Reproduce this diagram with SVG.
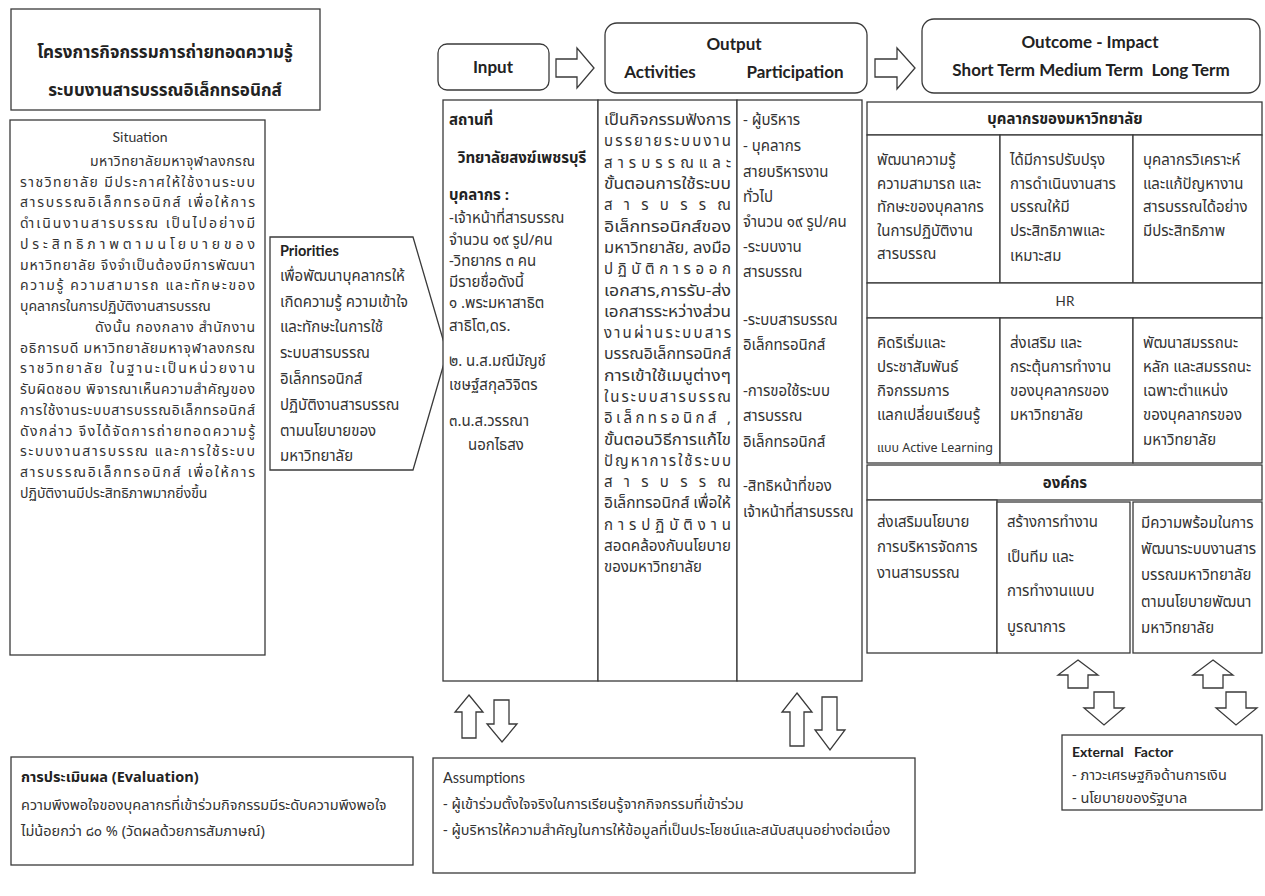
<svg xmlns="http://www.w3.org/2000/svg" width="1265" height="896" viewBox="0 0 1265 896">
<style>
.box{fill:#fff;stroke:#3a3a3a;stroke-width:1.3}
.arr{fill:#fff;stroke:#3a3a3a;stroke-width:1.3;stroke-linejoin:miter}
text{font-family:"Noto Sans Thai","Noto Sans","Liberation Sans",sans-serif;font-size:15px;fill:#333}
.s{font-size:14px}
.m{font-size:14.5px}
.b{font-weight:bold;fill:#222}
.en{font-family:Lato,"Open Sans","Liberation Sans",sans-serif}
.h{font-family:Lato,"Open Sans","Liberation Sans",sans-serif;font-weight:bold;font-size:17px;fill:#222}
.c{text-anchor:middle}
.sm{font-size:12.5px}
</style>
<rect width="1265" height="896" fill="#fff"/>

<g id="title">
<rect class="box" x="11" y="9" width="309" height="101"/>
<text class="b c" x="165" y="58" style="font-size:17px">โครงการกิจกรรมการถ่ายทอดความรู้</text>
<text class="b c" x="165" y="96" style="font-size:17px">ระบบงานสารบรรณอิเล็กทรอนิกส์</text>
</g>

<g id="situation" class="s">
<rect class="box" x="10" y="120" width="255" height="535"/>
<text class="c en s" x="140" y="142">Situation</text>
<text class="s" x="90" y="166" textLength="165" lengthAdjust="spacing">มหาวิทยาลัยมหาจุฬาลงกรณ</text>
<text class="s" x="20" y="187" textLength="235" lengthAdjust="spacing">ราชวิทยาลัย มีประกาศให้ใช้งานระบบ</text>
<text class="s" x="20" y="207" textLength="235" lengthAdjust="spacing">สารบรรณอิเล็กทรอนิกส์ เพื่อให้การ</text>
<text class="s" x="20" y="228" textLength="235" lengthAdjust="spacing">ดำเนินงานสารบรรณ เป็นไปอย่างมี</text>
<text class="s" x="20" y="249" textLength="235" lengthAdjust="spacing">ประสิทธิภาพตามนโยบายของ</text>
<text class="s" x="20" y="270" textLength="235" lengthAdjust="spacing">มหาวิทยาลัย จึงจำเป็นต้องมีการพัฒนา</text>
<text class="s" x="20" y="290" textLength="235" lengthAdjust="spacing">ความรู้ ความสามารถ และทักษะของ</text>
<text class="s" x="20" y="311">บุคลากรในการปฏิบัติงานสารบรรณ</text>
<text class="s" x="95" y="332" textLength="160" lengthAdjust="spacing">ดังนั้น กองกลาง สำนักงาน</text>
<text class="s" x="20" y="353" textLength="235" lengthAdjust="spacing">อธิการบดี มหาวิทยาลัยมหาจุฬาลงกรณ</text>
<text class="s" x="20" y="373" textLength="235" lengthAdjust="spacing">ราชวิทยาลัย ในฐานะเป็นหน่วยงาน</text>
<text class="s" x="20" y="394" textLength="235" lengthAdjust="spacing">รับผิดชอบ พิจารณาเห็นความสำคัญของ</text>
<text class="s" x="20" y="415" textLength="235" lengthAdjust="spacing">การใช้งานระบบสารบรรณอิเล็กทรอนิกส์</text>
<text class="s" x="20" y="436" textLength="235" lengthAdjust="spacing">ดังกล่าว จึงได้จัดการถ่ายทอดความรู้</text>
<text class="s" x="20" y="456" textLength="235" lengthAdjust="spacing">ระบบงานสารบรรณ และการใช้ระบบ</text>
<text class="s" x="20" y="477" textLength="235" lengthAdjust="spacing">สารบรรณอิเล็กทรอนิกส์ เพื่อให้การ</text>
<text class="s" x="20" y="498">ปฏิบัติงานมีประสิทธิภาพมากยิ่งขึ้น</text>
</g>

<g id="priorities">
<polygon class="box" points="270,237 413,237 447,353 413,470 270,470"/>
<text class="b en" x="280" y="256" style="font-size:14.5px">Priorities</text>
<text x="280" y="281">เพื่อพัฒนาบุคลากรให้</text>
<text x="280" y="307">เกิดความรู้ ความเข้าใจ</text>
<text x="280" y="332">และทักษะในการใช้</text>
<text x="280" y="358">ระบบสารบรรณ</text>
<text x="280" y="384">อิเล็กทรอนิกส์</text>
<text x="280" y="410">ปฏิบัติงานสารบรรณ</text>
<text x="280" y="436">ตามนโยบายของ</text>
<text x="280" y="461">มหาวิทยาลัย</text>
</g>

<g id="input-header">
<rect class="box" x="438" y="44" width="111" height="46" rx="9"/>
<text class="h c" x="493" y="73">Input</text>
</g>

<g id="output-header">
<rect class="box" x="605" y="23" width="262" height="70" rx="12"/>
<text class="h c" x="734" y="50">Output</text>
<text class="h c" x="660" y="78">Activities</text>
<text class="h c" x="795" y="78">Participation</text>
</g>

<g id="outcome-header">
<rect class="box" x="922" y="19" width="338" height="74" rx="12"/>
<text class="h c" x="1090" y="48">Outcome - Impact</text>
<text class="h c" x="1091" y="76" xml:space="preserve">Short Term Medium Term  Long Term</text>
</g>

<g id="input">
<rect class="box" x="443" y="100" width="155" height="581"/>
<text class="b" x="449" y="125">สถานที่</text>
<text class="b c" x="522" y="163">วิทยาลัยสงฆ์เพชรบุรี</text>
<text class="b" x="449" y="200">บุคลากร :</text>
<text x="449" y="223">-เจ้าหน้าที่สารบรรณ</text>
<text x="449" y="245">จำนวน ๑๙ รูป/คน</text>
<text x="449" y="266">-วิทยากร ๓ คน</text>
<text x="449" y="287">มีรายชื่อดังนี้</text>
<text x="449" y="308">๑ .พระมหาสาธิต</text>
<text x="449" y="331">สาธิโต,ดร.</text>
<text x="449" y="366">๒. น.ส.มณีมัญช์</text>
<text x="449" y="390">เชษฐ์สกุลวิจิตร</text>
<text x="449" y="426">๓.น.ส.วรรณา</text>
<text x="468" y="450">นอกไธสง</text>
</g>

<g id="activities">
<rect class="box" x="598" y="100" width="139" height="581"/>
<text x="604" y="125" textLength="127" lengthAdjust="spacingAndGlyphs">เป็นกิจกรรมฟังการ</text>
<text x="604" y="146" textLength="127" lengthAdjust="spacing">บรรยายระบบงาน</text>
<text x="604" y="168" textLength="127" lengthAdjust="spacing">สารบรรณและ</text>
<text x="604" y="189" textLength="127" lengthAdjust="spacingAndGlyphs">ขั้นตอนการใช้ระบบ</text>
<text x="604" y="210" textLength="127" lengthAdjust="spacing">สารบรรณ</text>
<text x="604" y="232" textLength="127" lengthAdjust="spacingAndGlyphs">อิเล็กทรอนิกส์ของ</text>
<text x="604" y="253" textLength="127" lengthAdjust="spacingAndGlyphs">มหาวิทยาลัย, ลงมือ</text>
<text x="604" y="274" textLength="127" lengthAdjust="spacing">ปฏิบัติการออก</text>
<text x="604" y="296" textLength="127" lengthAdjust="spacingAndGlyphs">เอกสาร,การรับ-ส่ง</text>
<text x="604" y="317" textLength="127" lengthAdjust="spacingAndGlyphs">เอกสารระหว่างส่วน</text>
<text x="604" y="338" textLength="127" lengthAdjust="spacing">งานผ่านระบบสาร</text>
<text x="604" y="359" textLength="127" lengthAdjust="spacingAndGlyphs">บรรณอิเล็กทรอนิกส์</text>
<text x="604" y="381" textLength="127" lengthAdjust="spacingAndGlyphs">การเข้าใช้เมนูต่างๆ</text>
<text x="604" y="402" textLength="127" lengthAdjust="spacing">ในระบบสารบรรณ</text>
<text x="604" y="423" textLength="127" lengthAdjust="spacing">อิเล็กทรอนิกส์ ,</text>
<text x="604" y="445" textLength="127" lengthAdjust="spacingAndGlyphs">ขั้นตอนวิธีการแก้ไข</text>
<text x="604" y="466" textLength="127" lengthAdjust="spacing">ปัญหาการใช้ระบบ</text>
<text x="604" y="487" textLength="127" lengthAdjust="spacing">สารบรรณ</text>
<text x="604" y="508" textLength="127" lengthAdjust="spacingAndGlyphs">อิเล็กทรอนิกส์ เพื่อให้</text>
<text x="604" y="530" textLength="127" lengthAdjust="spacing">การปฏิบัติงาน</text>
<text x="604" y="551" textLength="127" lengthAdjust="spacingAndGlyphs">สอดคล้องกับนโยบาย</text>
<text x="604" y="572">ของมหาวิทยาลัย</text>
</g>

<g id="participation">
<rect class="box" x="737" y="100" width="125" height="581"/>
<text x="743" y="125">- ผู้บริหาร</text>
<text x="743" y="151">- บุคลากร</text>
<text x="743" y="177">สายบริหารงาน</text>
<text x="743" y="202">ทั่วไป</text>
<text x="743" y="227">จำนวน ๑๙ รูป/คน</text>
<text x="743" y="252">-ระบบงาน</text>
<text x="743" y="277">สารบรรณ</text>
<text x="743" y="325">-ระบบสารบรรณ</text>
<text x="743" y="350">อิเล็กทรอนิกส์</text>
<text x="743" y="396">-การขอใช้ระบบ</text>
<text x="743" y="421">สารบรรณ</text>
<text x="743" y="447">อิเล็กทรอนิกส์</text>
<text x="743" y="491">-สิทธิหน้าที่ของ</text>
<text x="743" y="517">เจ้าหน้าที่สารบรรณ</text>
</g>

<g id="outcome-personnel">
<rect class="box" x="867" y="102" width="395" height="33"/>
<text class="b c" x="1065" y="124">บุคลากรของมหาวิทยาลัย</text>
<rect class="box" x="867" y="135" width="133" height="148"/>
<rect class="box" x="1000" y="135" width="133" height="148"/>
<rect class="box" x="1133" y="135" width="129" height="148"/>
<text x="877" y="165">พัฒนาความรู้</text>
<text x="877" y="189">ความสามารถ และ</text>
<text x="877" y="212">ทักษะของบุคลากร</text>
<text x="877" y="236">ในการปฏิบัติงาน</text>
<text x="877" y="259">สารบรรณ</text>
<text x="1010" y="165">ได้มีการปรับปรุง</text>
<text x="1010" y="189">การดำเนินงานสาร</text>
<text x="1010" y="212">บรรณให้มี</text>
<text x="1010" y="236">ประสิทธิภาพและ</text>
<text x="1010" y="261">เหมาะสม</text>
<text x="1143" y="165">บุคลากรวิเคราะห์</text>
<text x="1143" y="189">และแก้ปัญหางาน</text>
<text x="1143" y="212">สารบรรณได้อย่าง</text>
<text x="1143" y="236">มีประสิทธิภาพ</text>
</g>

<g id="outcome-hr">
<rect class="box" x="867" y="283" width="395" height="35"/>
<text class="c en" x="1065" y="306" style="font-size:13.5px">HR</text>
<rect class="box" x="867" y="318" width="133" height="145"/>
<rect class="box" x="1000" y="318" width="133" height="145"/>
<rect class="box" x="1133" y="318" width="129" height="145"/>
<text x="877" y="348">คิดริเริ่มและ</text>
<text x="877" y="372">ประชาสัมพันธ์</text>
<text x="877" y="396">กิจกรรมการ</text>
<text x="877" y="420">แลกเปลี่ยนเรียนรู้</text>
<text class="sm" x="877" y="452">แบบ Active Learning</text>
<text x="1010" y="348">ส่งเสริม และ</text>
<text x="1010" y="372">กระตุ้นการทำงาน</text>
<text x="1010" y="396">ของบุคลากรของ</text>
<text x="1010" y="420">มหาวิทยาลัย</text>
<text x="1143" y="348">พัฒนาสมรรถนะ</text>
<text x="1143" y="372">หลัก และสมรรถนะ</text>
<text x="1143" y="396">เฉพาะตำแหน่ง</text>
<text x="1143" y="420">ของบุคลากรของ</text>
<text x="1143" y="445">มหาวิทยาลัย</text>
</g>

<g id="outcome-organization">
<rect class="box" x="867" y="465" width="395" height="35"/>
<text class="b c" x="1065" y="488">องค์กร</text>
<rect class="box" x="867" y="500" width="130" height="153"/>
<rect class="box" x="997" y="502" width="133" height="151"/>
<rect class="box" x="1133" y="502" width="129" height="151"/>
<text x="877" y="527">ส่งเสริมนโยบาย</text>
<text x="877" y="552">การบริหารจัดการ</text>
<text x="877" y="578">งานสารบรรณ</text>
<text x="1007" y="527">สร้างการทำงาน</text>
<text x="1007" y="562">เป็นทีม และ</text>
<text x="1007" y="596">การทำงานแบบ</text>
<text x="1007" y="632">บูรณาการ</text>
<text x="1141" y="528">มีความพร้อมในการ</text>
<text x="1141" y="554">พัฒนาระบบงานสาร</text>
<text x="1141" y="580">บรรณมหาวิทยาลัย</text>
<text x="1141" y="607">ตามนโยบายพัฒนา</text>
<text x="1141" y="633">มหาวิทยาลัย</text>
</g>

<g id="connectors">
<polygon class="arr" points="556,59 577,59 577,48 594,68 577,88 577,77 556,77"/>
<polygon class="arr" points="875,59 897,59 897,48 915,68 897,89 897,77 875,77"/>
<polygon class="arr" points="469,695 483,712 476,712 476,738 462,738 462,712 455,712"/>
<polygon class="arr" points="494,700 509,700 509,724 517,724 502,742 487,724 494,724"/>
<polygon class="arr" points="797,693 812,712 804,712 804,746 790,746 790,712 782,712"/>
<polygon class="arr" points="822,697 837,697 837,730 845,730 830,750 815,730 822,730"/>
<polygon class="arr" points="1078,660 1098,675 1088,675 1088,688 1068,688 1068,675 1058,675"/>
<polygon class="arr" points="1213,660 1233,675 1223,675 1223,688 1203,688 1203,675 1193,675"/>
<polygon class="arr" points="1094,692 1114,692 1114,708 1124,708 1104,725 1084,708 1094,708"/>
<polygon class="arr" points="1226,692 1246,692 1246,708 1257,708 1236,725 1216,708 1226,708"/>
</g>

<g id="external-factor">
<rect class="box" x="1062" y="735" width="200" height="75"/>
<text class="b en" x="1072" y="757" xml:space="preserve" style="font-size:14px">External   Factor</text>
<text class="m" x="1072" y="780">- ภาวะเศรษฐกิจด้านการเงิน</text>
<text class="m" x="1072" y="803">- นโยบายของรัฐบาล</text>
</g>

<g id="evaluation">
<rect class="box" x="11" y="757" width="402" height="108"/>
<text class="b m" x="21" y="782">การประเมินผล (Evaluation)</text>
<text class="m" x="21" y="810">ความพึงพอใจของบุคลากรที่เข้าร่วมกิจกรรมมีระดับความพึงพอใจ</text>
<text class="m" x="21" y="836">ไม่น้อยกว่า ๘๐ % (วัดผลด้วยการสัมภาษณ์)</text>
</g>

<g id="assumptions">
<rect class="box" x="433" y="758" width="482" height="115"/>
<text class="en" x="443" y="783" style="font-size:14.5px">Assumptions</text>
<text class="m" x="443" y="809">- ผู้เข้าร่วมตั้งใจจริงในการเรียนรู้จากกิจกรรมที่เข้าร่วม</text>
<text class="m" x="443" y="835">- ผู้บริหารให้ความสำคัญในการให้ข้อมูลที่เป็นประโยชน์และสนับสนุนอย่างต่อเนื่อง</text>
</g>
</svg>
